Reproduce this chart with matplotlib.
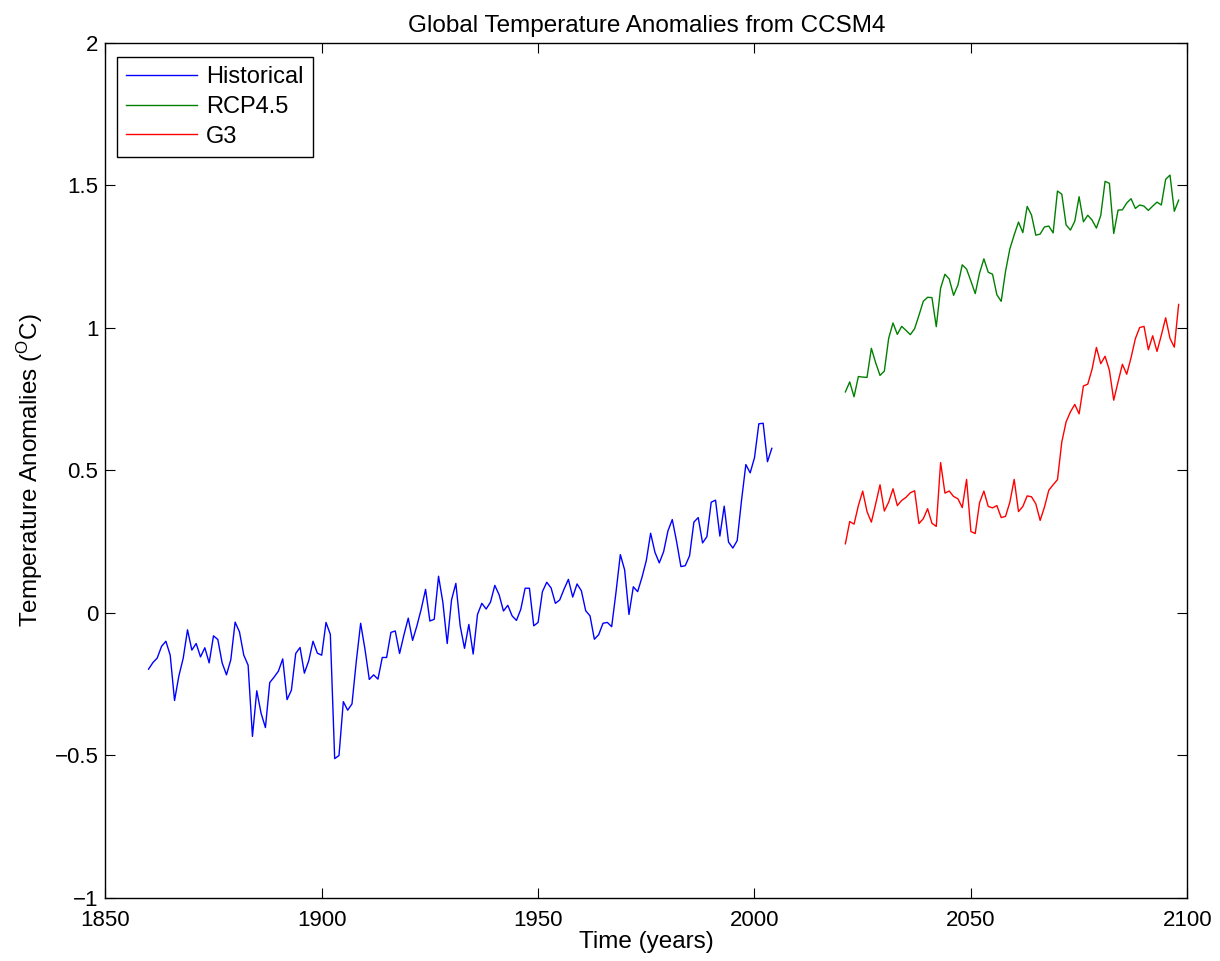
import numpy as np
import matplotlib
matplotlib.use("Agg")
import matplotlib.pyplot as plt

plt.rcParams['font.family'] = ['Liberation Sans', 'DejaVu Sans']
plt.rcParams['mathtext.fontset'] = 'custom'
plt.rcParams['mathtext.rm'] = 'Liberation Sans'
plt.rcParams['mathtext.it'] = 'Liberation Sans'

# Years for each run
hist_years = np.arange(1860, 2005)
scen_years = np.arange(2021, 2099)

# Global mean temperature anomalies (deg C)
historical = [
    -0.198, -0.175, -0.159, -0.118, -0.100, -0.149, -0.308, -0.222, -0.160, -0.060,
    -0.131, -0.108, -0.155, -0.123, -0.176, -0.081, -0.094, -0.176, -0.218, -0.165,
    -0.033, -0.067, -0.149, -0.184, -0.434, -0.274, -0.353, -0.403, -0.245, -0.226,
    -0.205, -0.162, -0.305, -0.272, -0.143, -0.122, -0.212, -0.169, -0.100, -0.142,
    -0.149, -0.034, -0.076, -0.512, -0.501,
    -0.312, -0.342, -0.320, -0.170, -0.037, -0.128, -0.234, -0.218, -0.233, -0.157,
    -0.157, -0.069, -0.064, -0.143, -0.078, -0.019, -0.097, -0.046, 0.013, 0.082,
    -0.029, -0.023, 0.128, 0.036, -0.108, 0.045, 0.103, -0.046, -0.125, -0.041,
    -0.145, -0.006, 0.033, 0.013, 0.037, 0.096, 0.063, 0.006, 0.026, -0.011,
    -0.027, 0.012,
    0.086, 0.086, -0.046, -0.034, 0.074, 0.107, 0.087, 0.033, 0.045, 0.083,
    0.117, 0.055, 0.101, 0.077, 0.007, -0.011, -0.093, -0.077, -0.037, -0.034,
    -0.049, 0.072, 0.204, 0.150, -0.006, 0.091, 0.074, 0.124, 0.183, 0.279,
    0.212, 0.175, 0.214, 0.287, 0.327, 0.250, 0.162, 0.165, 0.200, 0.318,
    0.334, 0.245, 0.267, 0.388, 0.395, 0.269, 0.374, 0.248, 0.227, 0.253,
    0.394, 0.520, 0.491, 0.544, 0.663, 0.665, 0.530, 0.577,
]

rcp45 = [
    0.775, 0.810, 0.758, 0.829, 0.827, 0.826, 0.928, 0.877, 0.833, 0.848,
    0.963, 1.017, 0.977, 1.005, 0.991, 0.976, 0.997, 1.044, 1.093, 1.107,
    1.106, 1.004, 1.139, 1.188, 1.171, 1.114, 1.150, 1.221, 1.206, 1.164,
    1.120, 1.192, 1.242, 1.195, 1.188, 1.116, 1.093, 1.198, 1.277, 1.326,
    1.371, 1.334, 1.426, 1.396, 1.325, 1.329, 1.354, 1.357, 1.333, 1.480,
    1.469, 1.361, 1.343, 1.374, 1.460, 1.372, 1.395, 1.378, 1.350, 1.394,
    1.514, 1.507, 1.331, 1.413, 1.414, 1.438, 1.453, 1.419, 1.431, 1.427,
    1.412, 1.427, 1.441, 1.431, 1.521, 1.536, 1.409, 1.448,
]

g3 = [
    0.242, 0.320, 0.311, 0.376, 0.427, 0.355, 0.318, 0.382, 0.449, 0.357,
    0.388, 0.435, 0.376, 0.394, 0.405, 0.421, 0.428, 0.313, 0.330, 0.365,
    0.314, 0.303, 0.527, 0.420, 0.427, 0.408, 0.400, 0.369, 0.468, 0.285,
    0.278, 0.386, 0.427, 0.373, 0.368, 0.376, 0.334, 0.338, 0.388, 0.468,
    0.355, 0.373, 0.410, 0.407, 0.382, 0.324, 0.371, 0.430, 0.449, 0.467,
    0.599, 0.670, 0.705, 0.731, 0.698, 0.796, 0.802, 0.855, 0.931, 0.874,
    0.900, 0.851, 0.746, 0.810, 0.872, 0.837, 0.895, 0.962, 1.001, 1.005,
    0.923, 0.972, 0.917, 0.974, 1.035, 0.963, 0.932, 1.082,
]

x_ticks = [1850, 1900, 1950, 2000, 2050, 2100]
y_ticks = [-1, -0.5, 0, 0.5, 1, 1.5, 2]
y_tick_labels = ['\u22121', '\u22120.5', '0', '0.5', '1', '1.5', '2']

fig = plt.figure(figsize=(12.2, 9.61), dpi=100)
ax = fig.add_axes([0.0863, 0.0659, 0.8869, 0.8895])

ax.plot(hist_years, historical, color=(0, 0, 1), lw=1.0, label='Historical')
ax.plot(scen_years, rcp45, color=(0, 0.5, 0), lw=1.0, label='RCP4.5')
ax.plot(scen_years, g3, color=(1, 0, 0), lw=1.0, label='G3')

ax.set_xlim(1850, 2100)
ax.set_ylim(-1, 2)
ax.set_xticks(x_ticks)
ax.set_xticklabels([str(t) for t in x_ticks])
ax.set_yticks(y_ticks)
ax.set_yticklabels(y_tick_labels)
ax.tick_params(direction='in', length=7, width=0.8, top=True, right=True,
               labelsize=16, pad=5)
ax.tick_params(axis='x', pad=9)
for sp in ax.spines.values():
    sp.set_linewidth(1.0)

ax.set_title('Global Temperature Anomalies from CCSM4', fontsize=17.5, pad=8)
ax.set_xlabel('Time (years)', fontsize=17.5, labelpad=0)
ax.set_ylabel(r'Temperature Anomalies ($^{\rm O}$C)', fontsize=17.5, labelpad=7)

leg = ax.legend(loc='upper left', bbox_to_anchor=(0.0105, 0.984), borderaxespad=0,
                fancybox=False, edgecolor='black', framealpha=1, fontsize=17,
                handlelength=3.0, handletextpad=0.4, labelspacing=0.33, borderpad=0.4)
leg.get_frame().set_linewidth(1.0)

fig.savefig('out.png', dpi=100)
